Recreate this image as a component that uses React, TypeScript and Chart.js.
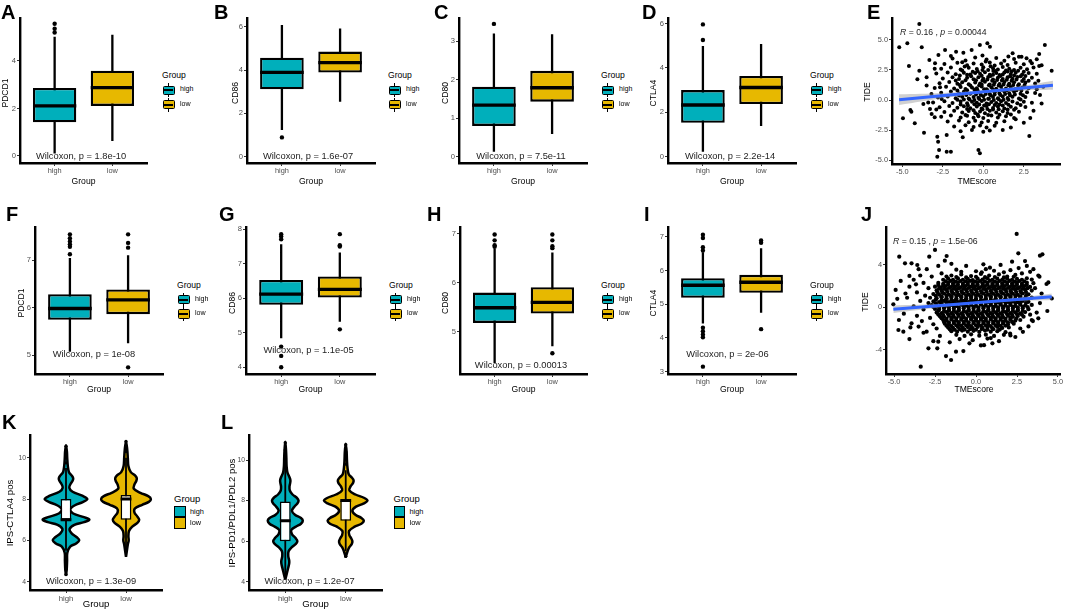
import React, { useEffect, useRef } from 'react';
import { Chart, registerables } from 'chart.js';
Chart.register(...registerables);

const TEAL = '#00AFBB';
const GOLD = '#E7B800';
const FONT = '"Liberation Sans", Arial, Helvetica, sans-serif';
const TICK = '#4D4D4D';

// ---------------- data ----------------
const groups = ['high', 'low'];

// boxplot stats: [lower whisker, Q1, median, Q3, upper whisker]
const pdcd1A_high = [0.1, 1.42, 2.11, 2.86, 5.02];
const pdcd1A_low = [0.63, 2.11, 2.88, 3.59, 5.1];
const pdcd1A_outHigh = [5.2, 5.36, 5.57];
const pdcd1A_outLow: number[] = [];

const cd86B_high = [1.23, 3.11, 3.89, 4.57, 6.08];
const cd86B_low = [2.54, 3.88, 4.34, 4.85, 5.92];
const cd86B_outHigh = [0.89];
const cd86B_outLow: number[] = [];

const cd80C_high = [0.13, 0.8, 1.34, 1.82, 3.2];
const cd80C_low = [0.59, 1.43, 1.79, 2.23, 3.18];
const cd80C_outHigh = [3.45];
const cd80C_outLow: number[] = [];

const ctla4D_high = [0.22, 1.53, 2.33, 3.0, 4.99];
const ctla4D_low = [1.38, 2.37, 3.12, 3.64, 5.08];
const ctla4D_outHigh = [5.26, 5.96];
const ctla4D_outLow: number[] = [];

const pdcd1F_high = [5.07, 5.74, 5.98, 6.28, 7.04];
const pdcd1F_low = [5.25, 5.86, 6.16, 6.38, 7.1];
const pdcd1F_outHigh = [7.12, 7.28, 7.33, 7.39, 7.46, 7.54];
const pdcd1F_outLow = [7.26, 7.36, 7.54, 4.74];

const cd86G_high = [4.84, 5.81, 6.12, 6.53, 7.57];
const cd86G_low = [5.32, 6.02, 6.26, 6.63, 7.33];
const cd86G_outHigh = [7.71, 7.79, 7.86, 4.6, 4.33, 4.0];
const cd86G_outLow = [7.5, 7.54, 7.86, 5.1];

const cd80H_high = [4.36, 5.18, 5.49, 5.8, 6.7];
const cd80H_low = [4.7, 5.37, 5.6, 5.91, 6.62];
const cd80H_outHigh = [6.74, 6.77, 6.87, 6.99];
const cd80H_outLow = [6.71, 6.75, 6.87, 6.99, 4.56];

const ctla4I_high = [4.43, 5.19, 5.56, 5.77, 6.54];
const ctla4I_low = [4.75, 5.34, 5.65, 5.87, 6.66];
const ctla4I_outHigh = [6.59, 6.69, 6.96, 7.06, 4.3, 4.2, 4.1, 4.02, 3.15];
const ctla4I_outLow = [6.82, 6.89, 4.26];

// violin densities: score levels and half-widths (in group-width units)
const ipsK_highLevels = [4.3, 4.6, 5.0, 5.4, 5.7, 5.85, 6.0, 6.15, 6.35, 6.55, 6.75, 6.88, 7.0, 7.12, 7.3, 7.5, 7.7, 7.85, 8.0, 8.15, 8.35, 8.55, 8.75, 8.88, 9.0, 9.12, 9.3, 9.6, 10.0, 10.3, 10.6];
const ipsK_highDensity = [0, 0.012, 0.018, 0.022, 0.07, 0.17, 0.22, 0.18, 0.09, 0.06, 0.14, 0.3, 0.39, 0.3, 0.12, 0.07, 0.15, 0.28, 0.355, 0.28, 0.11, 0.055, 0.08, 0.11, 0.12, 0.1, 0.05, 0.03, 0.02, 0.015, 0];
const ipsK_lowLevels = [5.2, 5.5, 5.8, 6.0, 6.2, 6.45, 6.65, 6.85, 7.0, 7.15, 7.35, 7.55, 7.72, 7.86, 8.0, 8.14, 8.3, 8.5, 8.7, 8.86, 9.0, 9.14, 9.3, 9.6, 10.0, 10.4, 10.8];
const ipsK_lowDensity = [0, 0.015, 0.03, 0.045, 0.04, 0.05, 0.1, 0.19, 0.22, 0.19, 0.14, 0.15, 0.27, 0.38, 0.415, 0.37, 0.24, 0.13, 0.14, 0.17, 0.18, 0.15, 0.08, 0.04, 0.03, 0.02, 0];
const ipsK_high = [5.5, 7.0, 7.0, 8.0, 9.5];
const ipsK_low = [5.2, 7.0, 8.0, 8.2, 10.0];
const ipsK_outHigh = [4.35, 4.6, 4.85, 5.1, 5.3, 9.75, 10.0, 10.25, 10.55];
const ipsK_outLow = [10.3, 10.55, 10.78];

const ipsL_highLevels = [4.1, 4.4, 4.7, 4.9, 5.05, 5.25, 5.5, 5.7, 5.85, 6.0, 6.15, 6.35, 6.55, 6.72, 6.86, 7.0, 7.14, 7.3, 7.5, 7.7, 7.86, 8.0, 8.14, 8.3, 8.5, 8.7, 8.85, 9.0, 9.15, 9.4, 9.7, 10.1, 10.5, 10.9];
const ipsL_highDensity = [0, 0.025, 0.05, 0.065, 0.065, 0.05, 0.055, 0.11, 0.17, 0.2, 0.17, 0.11, 0.1, 0.18, 0.26, 0.29, 0.26, 0.16, 0.11, 0.15, 0.2, 0.22, 0.19, 0.12, 0.075, 0.07, 0.08, 0.085, 0.07, 0.035, 0.022, 0.018, 0.012, 0];
const ipsL_lowLevels = [5.2, 5.5, 5.7, 5.86, 6.0, 6.14, 6.3, 6.5, 6.7, 6.86, 7.0, 7.14, 7.3, 7.5, 7.7, 7.86, 8.0, 8.14, 8.3, 8.5, 8.7, 8.86, 9.0, 9.14, 9.3, 9.6, 10.0, 10.4, 10.8];
const ipsL_lowDensity = [0, 0.03, 0.06, 0.1, 0.11, 0.09, 0.06, 0.055, 0.14, 0.26, 0.3, 0.26, 0.16, 0.11, 0.17, 0.3, 0.36, 0.3, 0.16, 0.06, 0.08, 0.12, 0.13, 0.1, 0.05, 0.03, 0.02, 0.015, 0];
const ipsL_high = [4.2, 6.0, 7.0, 7.95, 9.9];
const ipsL_low = [5.5, 7.0, 8.0, 8.0, 9.5];
const ipsL_outHigh = [10.2, 10.5, 10.85];
const ipsL_outLow = [5.25, 9.8, 10.1, 10.4, 10.75];

// scatter E: [TMEscore, TIDE]
const pointsE = [
  [-3.95, 6.33], [-5.19, 4.39], [-4.69, 4.72], [-3.8, 4.39], [-4.59, 2.83], [-3.95, 2.44], [-4.07, 1.72], [-3.5, 1.89], [-3.33, 3.33], [-2.77, 3.75],
  [-2.98, 3.06], [-2.36, 4.17], [-1.68, 4.03], [-2.0, 3.67], [-1.23, 3.94], [-0.72, 4.17], [-0.21, 4.58], [0.25, 4.72], [0.41, 4.44], [1.81, 3.89],
  [2.36, 3.61], [2.67, 3.47], [3.45, 3.83], [3.8, 4.58], [4.22, 2.44], [3.45, 2.83], [3.5, 0.42], [2.84, -2.99], [-4.96, -1.53], [-4.44, -0.97],
  [-4.23, -1.94], [-3.66, -2.72], [-3.0, -1.44], [-2.84, -3.06], [-2.79, -3.47], [-2.73, -4.17], [-2.84, -4.72], [-2.26, -2.92], [-2.26, -4.31], [-2.0, -4.31],
  [-1.27, -3.11], [-0.3, -4.17], [-0.21, -4.44], [-4.5, -0.83], [-3.29, -0.75], [-3.19, -1.17], [-3.7, -0.33],
  [-2.67, 1.06], [-2.57, 0.08], [-3.2, 0.5], [-3.4, -0.2], [-2.9, -0.8], [-3.5, 1.2], [-3.0, 2.6], [3.4, 1.6], [3.6, -0.3], [3.1, -0.9],
  [2.9, -1.5], [2.5, -1.9], [3.3, 0.9], [3.7, 1.1], [2.0, -1.6], [1.7, -2.3], [1.2, -2.5],
  [-1.9, 3.45], [-1.1, 3.3], [-0.5, 3.55], [0.2, 3.38], [0.8, 3.5], [1.3, 3.28], [1.9, 3.42], [2.2, 3.6], [2.9, 3.25], [3.3, 3.4], [-0.05, 3.7], [1.55, 3.62],
  [-2.4, 3.0], [-1.6, 3.1], [-1.0, 2.9], [-0.6, 3.05], [-0.1, 2.95], [0.4, 3.12], [0.7, 2.88], [1.1, 3.04], [1.5, 2.92], [2.0, 3.1], [2.5, 2.97], [3.0, 3.06], [3.6, 2.9], [-1.3, 3.15], [0.15, 3.2],
  [-2.6, 2.6], [-2.0, 2.7], [-1.4, 2.55], [-0.9, 2.68], [-0.4, 2.58], [0.0, 2.72], [0.3, 2.5], [0.6, 2.65], [0.9, 2.55], [1.2, 2.75], [1.6, 2.6], [1.9, 2.5], [2.3, 2.68], [2.7, 2.57], [3.1, 2.7], [-1.15, 2.8], [0.45, 2.82], [1.4, 2.45],
  [-2.9, 2.2], [-2.2, 2.3], [-1.7, 2.15], [-1.2, 2.28], [-0.8, 2.12], [-0.5, 2.25], [-0.2, 2.18], [0.1, 2.32], [0.4, 2.1], [0.8, 2.26], [1.0, 2.08], [1.3, 2.3], [1.7, 2.16], [2.0, 2.28], [2.4, 2.12], [2.8, 2.25], [3.3, 2.18], [-0.35, 2.4], [0.62, 2.42], [1.5, 2.38], [2.15, 2.44],
  [-2.5, 1.8], [-1.9, 1.9], [-1.5, 1.75], [-1.0, 1.85], [-0.6, 1.72], [-0.3, 1.9], [0.0, 1.78], [0.3, 1.92], [0.6, 1.7], [0.9, 1.86], [1.2, 1.74], [1.5, 1.9], [1.8, 1.78], [2.1, 1.92], [2.5, 1.75], [3.0, 1.85], [-0.75, 1.98], [0.45, 2.0], [1.05, 2.0], [1.65, 1.98], [2.3, 1.98],
  [-2.7, 1.4], [-2.1, 1.5], [-1.6, 1.35], [-1.3, 1.48], [-0.9, 1.32], [-0.5, 1.45], [-0.2, 1.38], [0.1, 1.52], [0.4, 1.3], [0.7, 1.46], [1.0, 1.34], [1.3, 1.5], [1.6, 1.36], [1.9, 1.48], [2.2, 1.32], [2.6, 1.45], [3.2, 1.38], [-0.05, 1.62], [0.55, 1.6], [1.15, 1.62], [1.75, 1.6], [2.4, 1.58],
  [-3.0, 1.0], [-2.3, 1.1], [-1.8, 0.95], [-1.4, 1.08], [-1.1, 0.92], [-0.7, 1.05], [-0.4, 0.98], [-0.1, 1.12], [0.2, 0.9], [0.5, 1.06], [0.8, 0.94], [1.1, 1.1], [1.4, 0.96], [1.7, 1.08], [2.0, 0.92], [2.4, 1.04], [2.8, 0.98], [-0.25, 1.22], [0.35, 1.22], [0.95, 1.2], [1.55, 1.22], [2.15, 1.2],
  [-2.6, 0.6], [-2.0, 0.7], [-1.5, 0.55], [-1.2, 0.68], [-0.8, 0.52], [-0.5, 0.66], [-0.2, 0.58], [0.1, 0.72], [0.4, 0.5], [0.7, 0.64], [1.0, 0.54], [1.3, 0.7], [1.6, 0.56], [1.9, 0.68], [2.3, 0.52], [2.7, 0.65], [3.2, 0.58], [-0.35, 0.8], [0.25, 0.82], [0.85, 0.8], [1.45, 0.82], [2.05, 0.82],
  [-2.8, 0.2], [-2.2, 0.3], [-1.7, 0.15], [-1.3, 0.28], [-0.9, 0.12], [-0.6, 0.26], [-0.3, 0.18], [0.0, 0.32], [0.3, 0.1], [0.6, 0.24], [0.9, 0.14], [1.2, 0.3], [1.5, 0.16], [1.8, 0.28], [2.2, 0.12], [2.6, 0.26], [-0.15, 0.42], [0.45, 0.4], [1.05, 0.42], [1.65, 0.4],
  [-3.1, -0.2], [-2.4, -0.1], [-1.9, -0.25], [-1.4, -0.12], [-1.0, -0.28], [-0.7, -0.14], [-0.4, -0.22], [-0.1, -0.08], [0.2, -0.3], [0.5, -0.16], [0.8, -0.26], [1.1, -0.1], [1.4, -0.24], [1.8, -0.12], [2.1, -0.28], [2.5, -0.15], [3.0, -0.22], [-0.55, 0.0], [0.05, 0.02], [0.65, 0.0], [1.25, 0.02],
  [-2.7, -0.6], [-2.1, -0.5], [-1.6, -0.65], [-1.2, -0.52], [-0.8, -0.68], [-0.4, -0.55], [-0.1, -0.7], [0.2, -0.5], [0.6, -0.66], [0.9, -0.54], [1.3, -0.7], [1.7, -0.56], [2.0, -0.68], [2.6, -0.58], [-0.25, -0.38], [0.35, -0.36], [1.0, -0.38],
  [-2.4, -1.0], [-1.8, -0.9], [-1.3, -1.05], [-0.9, -0.92], [-0.5, -1.08], [-0.2, -0.95], [0.1, -1.1], [0.4, -0.9], [0.8, -1.04], [1.2, -0.94], [1.5, -1.08], [2.2, -0.98], [-0.05, -0.78], [0.6, -0.8],
  [-2.6, -1.4], [-2.0, -1.3], [-1.4, -1.45], [-1.0, -1.32], [-0.6, -1.48], [-0.3, -1.35], [0.0, -1.5], [0.5, -1.3], [0.9, -1.46], [1.4, -1.35], [1.9, -1.5],
  [-2.2, -1.8], [-1.5, -1.7], [-0.9, -1.85], [-0.5, -1.72], [-0.1, -1.88], [0.3, -1.75], [0.8, -1.9], [1.3, -1.78],
  [-1.8, -2.2], [-1.1, -2.1], [-0.6, -2.25], [-0.2, -2.12], [0.2, -2.3], [0.7, -2.15],
  [-1.4, -2.6], [-0.7, -2.5], [0.0, -2.65], [0.4, -2.55],
  [-1.3, 2.45], [-0.65, 2.35], [-0.05, 2.5], [0.75, 2.42], [1.75, 2.4], [2.5, 2.35],
  [-1.45, 2.05], [-1.0, 2.1], [-0.1, 2.02], [0.6, 2.1], [1.2, 2.12], [1.9, 2.05], [2.6, 2.0],
  [-1.7, 1.62], [-1.1, 1.65], [-0.45, 1.65], [0.25, 1.7], [0.85, 1.66], [1.45, 1.68], [2.05, 1.7], [2.8, 1.6],
  [-1.45, 1.25], [-0.8, 1.2], [-0.1, 1.3], [0.65, 1.28], [1.25, 1.3], [1.85, 1.26], [2.55, 1.25],
  [-1.6, 0.8], [-1.0, 0.82], [-0.55, 0.88], [0.05, 0.9], [0.6, 0.88], [1.15, 0.86], [1.75, 0.88], [2.35, 0.8],
  [-1.5, 0.38], [-1.05, 0.42], [-0.45, 0.45], [0.15, 0.5], [0.7, 0.45], [1.35, 0.5], [1.95, 0.46], [2.45, 0.4],
  [-1.6, 0.02], [-1.2, 0.05], [-0.85, 0.05], [-0.25, 0.08], [0.35, 0.1], [0.95, 0.06], [1.55, 0.02], [2.3, 0.05],
  [-1.4, -0.38], [-0.95, -0.45], [-0.55, -0.36], [0.05, -0.45], [0.7, -0.42], [1.2, -0.45], [1.55, -0.4], [2.3, -0.42],
  [-1.0, -0.75], [-0.6, -0.85], [0.25, -0.75], [0.95, -0.78], [1.5, -0.8], [1.9, -0.82],
  [-1.1, -1.25], [-0.35, -1.2], [0.3, -1.25], [1.0, -1.22], [1.7, -1.2],
];
const fitE_x = [-5.2, 4.3];
const fitE_y = [0.03, 1.23];
const bandE_x = [-5.2, -2.5, 0.5, 2.5, 4.3];
const bandE_lo = [-0.42, 0.15, 0.63, 0.8, 0.85];
const bandE_hi = [0.48, 0.59, 0.87, 1.2, 1.61];

// scatter J: [TMEscore, TIDE]
const pointsJ = [
  [2.48, 6.92], [-2.5, 5.41], [-4.68, 4.78], [-4.33, 4.15], [-3.93, 4.15], [-3.58, 3.99], [-2.85, 4.78], [-1.79, 4.84], [0.45, 4.05], [0.85, 3.74],
  [2.58, 5.09], [2.99, 4.36], [3.9, 4.87], [4.05, 5.0], [3.87, 2.89], [4.41, 2.35], [4.62, 0.84], [4.35, -0.35], [3.8, -1.04], [-5.04, 0.28],
  [-4.9, 1.64], [-4.59, 2.49], [-4.06, 2.96], [-4.06, 1.95], [-3.66, 2.17], [-4.73, -2.14], [-4.43, -2.3], [-4.06, -3.0], [-3.93, -1.51], [-3.5, -1.82],
  [-3.01, -2.3], [-2.9, -3.87], [-2.36, -3.87], [-2.3, -3.24], [-1.83, -4.6], [-1.52, -4.97], [-1.22, -4.19], [-0.77, -4.13], [-3.37, -5.6], [0.49, -3.57],
  [2.08, -2.47], [2.86, -2.31], [3.47, -1.3],
  [-3.0, 3.6], [-3.4, 3.0], [-2.7, 2.9], [-3.8, 2.6], [-3.2, 2.3], [-2.9, 1.8], [-3.6, 1.4], [-3.1, 1.1], [-4.2, 0.9], [-3.4, 0.6],
  [-2.9, 0.4], [-3.8, 0.1], [-3.2, -0.2], [-4.4, -0.6], [-3.6, -0.8], [-2.8, -1.0], [-3.3, -1.3], [-2.6, -1.6], [-4.0, -1.9], [-2.4, -2.0],
  [-3.2, -2.4], [-2.2, -2.7], [-2.6, -3.2], [-4.7, -1.2], [-4.3, 1.3], [-4.8, 0.8], [-3.5, 3.6], [-2.3, 3.9], [-1.5, 4.1], [-0.6, 3.9],
  [-1.9, 4.4], [1.5, 4.0], [2.2, 4.3], [3.5, 3.6], [3.8, 3.0], [3.6, 1.8], [4.0, 1.3], [3.9, 0.4], [3.7, -0.5], [3.4, -1.2],
  [3.2, -1.8], [2.7, -2.0], [2.4, -2.8], [1.7, -2.6], [0.9, -2.9], [-0.4, -3.4], [0.3, -3.6], [1.0, -3.4], [4.3, 2.2], [3.3, -0.7],
  [-1.5, 3.0], [-0.9, 3.1], [-0.3, 2.95], [0.3, 3.15], [0.8, 3.0], [1.4, 3.1], [1.9, 2.9], [2.4, 3.05], [2.8, 3.2], [3.3, 3.35], [-2.1, 3.2], [0.0, 3.4], [1.1, 3.45], [2.1, 3.5], [-1.2, 3.55], [2.6, 3.7], [3.1, 3.9], [0.6, 3.6],
  [-2.0, 2.6], [-1.7, 2.7], [-1.4, 2.58], [-1.1, 2.72], [-0.8, 2.6], [-0.5, 2.68], [-0.2, 2.56], [0.1, 2.7], [0.4, 2.62], [0.7, 2.74], [1.0, 2.58], [1.3, 2.7], [1.6, 2.6], [1.9, 2.72], [2.2, 2.58], [2.5, 2.68], [2.8, 2.6], [3.1, 2.74], [3.4, 2.62],
  [-2.3, 2.3], [-2.0, 2.22], [-1.7, 2.34], [-1.4, 2.26], [-1.1, 2.36], [-0.8, 2.24], [-0.5, 2.32], [-0.2, 2.22], [0.1, 2.36], [0.4, 2.26], [0.7, 2.32], [1.0, 2.22], [1.3, 2.34], [1.6, 2.26], [1.9, 2.36], [2.2, 2.24], [2.5, 2.32], [2.8, 2.22], [3.1, 2.34], [3.5, 2.28],
  [-2.5, 1.95], [-2.15, 1.88], [-1.85, 2.0], [-1.55, 1.9], [-1.25, 1.98], [-0.95, 1.88], [-0.65, 2.0], [-0.35, 1.92], [-0.05, 1.98], [0.25, 1.88], [0.55, 2.0], [0.85, 1.9], [1.15, 1.98], [1.45, 1.88], [1.75, 2.0], [2.05, 1.9], [2.35, 1.98], [2.65, 1.88], [2.95, 2.0], [3.3, 1.92],
  [-2.4, 1.6], [-2.1, 1.55], [-1.8, 1.66], [-1.5, 1.56], [-1.2, 1.64], [-0.9, 1.54], [-0.6, 1.66], [-0.3, 1.56], [0.0, 1.64], [0.3, 1.54], [0.6, 1.66], [0.9, 1.56], [1.2, 1.64], [1.5, 1.54], [1.8, 1.66], [2.1, 1.56], [2.4, 1.64], [2.7, 1.54], [3.0, 1.66], [3.4, 1.58],
  [-2.6, 1.25], [-2.25, 1.2], [-1.95, 1.3], [-1.65, 1.2], [-1.35, 1.28], [-1.05, 1.18], [-0.75, 1.3], [-0.45, 1.2], [-0.15, 1.28], [0.15, 1.18], [0.45, 1.3], [0.75, 1.2], [1.05, 1.28], [1.35, 1.18], [1.65, 1.3], [1.95, 1.2], [2.25, 1.28], [2.55, 1.18], [2.85, 1.3], [3.2, 1.22],
  [-2.8, 0.9], [-2.4, 0.85], [-2.1, 0.95], [-1.8, 0.85], [-1.5, 0.93], [-1.2, 0.83], [-0.9, 0.95], [-0.6, 0.85], [-0.3, 0.93], [0.0, 0.83], [0.3, 0.95], [0.6, 0.85], [0.9, 0.93], [1.2, 0.83], [1.5, 0.95], [1.8, 0.85], [2.1, 0.93], [2.4, 0.83], [2.7, 0.95], [3.0, 0.87], [3.4, 0.92],
  [-2.6, 0.55], [-2.25, 0.5], [-1.95, 0.6], [-1.65, 0.5], [-1.35, 0.58], [-1.05, 0.48], [-0.75, 0.6], [-0.45, 0.5], [-0.15, 0.58], [0.15, 0.48], [0.45, 0.6], [0.75, 0.5], [1.05, 0.58], [1.35, 0.48], [1.65, 0.6], [1.95, 0.5], [2.25, 0.58], [2.55, 0.48], [2.85, 0.6], [3.2, 0.52],
  [-2.7, 0.2], [-2.4, 0.15], [-2.1, 0.25], [-1.8, 0.15], [-1.5, 0.23], [-1.2, 0.13], [-0.9, 0.25], [-0.6, 0.15], [-0.3, 0.23], [0.0, 0.13], [0.3, 0.25], [0.6, 0.15], [0.9, 0.23], [1.2, 0.13], [1.5, 0.25], [1.8, 0.15], [2.1, 0.23], [2.4, 0.13], [2.7, 0.25], [3.0, 0.17], [3.4, 0.22],
  [-2.5, -0.15], [-2.25, -0.2], [-1.95, -0.1], [-1.65, -0.2], [-1.35, -0.12], [-1.05, -0.22], [-0.75, -0.1], [-0.45, -0.2], [-0.15, -0.12], [0.15, -0.22], [0.45, -0.1], [0.75, -0.2], [1.05, -0.12], [1.35, -0.22], [1.65, -0.1], [1.95, -0.2], [2.25, -0.12], [2.55, -0.22], [2.85, -0.1], [3.2, -0.18],
  [-2.4, -0.5], [-2.1, -0.55], [-1.8, -0.45], [-1.5, -0.55], [-1.2, -0.47], [-0.9, -0.57], [-0.6, -0.45], [-0.3, -0.55], [0.0, -0.47], [0.3, -0.57], [0.6, -0.45], [0.9, -0.55], [1.2, -0.47], [1.5, -0.57], [1.8, -0.45], [2.1, -0.55], [2.4, -0.47], [2.7, -0.57], [3.0, -0.45],
  [-2.2, -0.85], [-1.95, -0.9], [-1.65, -0.8], [-1.35, -0.9], [-1.05, -0.82], [-0.75, -0.92], [-0.45, -0.8], [-0.15, -0.9], [0.15, -0.82], [0.45, -0.92], [0.75, -0.8], [1.05, -0.9], [1.35, -0.82], [1.65, -0.92], [1.95, -0.8], [2.25, -0.9], [2.55, -0.82], [2.9, -0.88],
  [-2.0, -1.2], [-1.8, -1.25], [-1.5, -1.15], [-1.2, -1.25], [-0.9, -1.17], [-0.6, -1.27], [-0.3, -1.15], [0.0, -1.25], [0.3, -1.17], [0.6, -1.27], [0.9, -1.15], [1.2, -1.25], [1.5, -1.17], [1.8, -1.27], [2.1, -1.15], [2.4, -1.25], [2.7, -1.2],
  [-1.9, -1.55], [-1.65, -1.6], [-1.35, -1.5], [-1.05, -1.6], [-0.75, -1.52], [-0.45, -1.62], [-0.15, -1.5], [0.15, -1.6], [0.45, -1.52], [0.75, -1.62], [1.05, -1.5], [1.35, -1.6], [1.65, -1.52], [1.95, -1.62], [2.3, -1.55],
  [-1.7, -1.9], [-1.4, -1.95], [-1.1, -1.85], [-0.8, -1.95], [-0.5, -1.87], [-0.2, -1.97], [0.1, -1.85], [0.4, -1.95], [0.7, -1.87], [1.0, -1.97], [1.3, -1.85], [1.6, -1.95], [2.0, -1.9],
  [-1.5, -2.25], [-1.15, -2.3], [-0.85, -2.2], [-0.5, -2.3], [-0.15, -2.22], [0.2, -2.32], [0.55, -2.2], [0.9, -2.3], [1.3, -2.25], [1.8, -2.35],
  [-1.2, -2.6], [-0.7, -2.7], [-0.3, -2.55], [0.2, -2.68], [0.6, -2.58], [1.1, -2.7], [2.1, -2.65],
  [-1.0, -3.0], [-0.2, -3.1], [0.7, -2.95], [1.4, -3.2], [-1.6, -3.3],
  [-1.85, 2.45], [-1.55, 2.5], [-1.25, 2.42], [-0.95, 2.48], [-0.65, 2.44], [-0.35, 2.5], [-0.05, 2.42], [0.25, 2.48], [0.55, 2.44], [0.85, 2.5], [1.15, 2.42], [1.45, 2.48], [1.75, 2.44], [2.05, 2.5], [2.35, 2.42], [2.65, 2.48], [2.95, 2.44],
  [-2.3, 2.1], [-2.0, 2.06], [-1.7, 2.14], [-1.4, 2.08], [-1.1, 2.12], [-0.8, 2.06], [-0.5, 2.14], [-0.2, 2.08], [0.1, 2.12], [0.4, 2.06], [0.7, 2.14], [1.0, 2.08], [1.3, 2.12], [1.6, 2.06], [1.9, 2.14], [2.2, 2.08], [2.5, 2.12], [2.8, 2.06], [3.1, 2.12],
  [-2.25, 1.78], [-1.95, 1.74], [-1.65, 1.82], [-1.35, 1.76], [-1.05, 1.8], [-0.75, 1.74], [-0.45, 1.82], [-0.15, 1.76], [0.15, 1.8], [0.45, 1.74], [0.75, 1.82], [1.05, 1.76], [1.35, 1.8], [1.65, 1.74], [1.95, 1.82], [2.25, 1.76], [2.55, 1.8], [2.85, 1.74], [3.15, 1.8],
  [-2.35, 1.42], [-2.05, 1.38], [-1.75, 1.46], [-1.45, 1.4], [-1.15, 1.44], [-0.85, 1.38], [-0.55, 1.46], [-0.25, 1.4], [0.05, 1.44], [0.35, 1.38], [0.65, 1.46], [0.95, 1.4], [1.25, 1.44], [1.55, 1.38], [1.85, 1.46], [2.15, 1.4], [2.45, 1.44], [2.75, 1.38], [3.05, 1.44],
  [-2.45, 1.07], [-2.1, 1.03], [-1.8, 1.1], [-1.5, 1.05], [-1.2, 1.09], [-0.9, 1.03], [-0.6, 1.1], [-0.3, 1.05], [0.0, 1.09], [0.3, 1.03], [0.6, 1.1], [0.9, 1.05], [1.2, 1.09], [1.5, 1.03], [1.8, 1.1], [2.1, 1.05], [2.4, 1.09], [2.7, 1.03], [3.05, 1.08],
  [-2.45, 0.72], [-2.1, 0.68], [-1.8, 0.76], [-1.5, 0.7], [-1.2, 0.74], [-0.9, 0.68], [-0.6, 0.76], [-0.3, 0.7], [0.0, 0.74], [0.3, 0.68], [0.6, 0.76], [0.9, 0.7], [1.2, 0.74], [1.5, 0.68], [1.8, 0.76], [2.1, 0.7], [2.4, 0.74], [2.7, 0.68], [3.0, 0.74],
  [-2.45, 0.38], [-2.1, 0.34], [-1.8, 0.42], [-1.5, 0.36], [-1.2, 0.4], [-0.9, 0.34], [-0.6, 0.42], [-0.3, 0.36], [0.0, 0.4], [0.3, 0.34], [0.6, 0.42], [0.9, 0.36], [1.2, 0.4], [1.5, 0.34], [1.8, 0.42], [2.1, 0.36], [2.4, 0.4], [2.7, 0.34], [3.05, 0.4],
  [-2.6, 0.03], [-2.25, 0.0], [-1.95, 0.06], [-1.65, 0.02], [-1.35, 0.05], [-1.05, -0.01], [-0.75, 0.06], [-0.45, 0.02], [-0.15, 0.05], [0.15, -0.01], [0.45, 0.06], [0.75, 0.02], [1.05, 0.05], [1.35, -0.01], [1.65, 0.06], [1.95, 0.02], [2.25, 0.05], [2.55, -0.01], [2.85, 0.05], [3.15, 0.02],
  [-2.3, -0.33], [-1.95, -0.36], [-1.65, -0.3], [-1.35, -0.35], [-1.05, -0.31], [-0.75, -0.37], [-0.45, -0.3], [-0.15, -0.35], [0.15, -0.31], [0.45, -0.37], [0.75, -0.3], [1.05, -0.35], [1.35, -0.31], [1.65, -0.37], [1.95, -0.3], [2.25, -0.35], [2.55, -0.31], [2.85, -0.35],
  [-2.3, -0.68], [-2.0, -0.72], [-1.7, -0.65], [-1.4, -0.7], [-1.1, -0.66], [-0.8, -0.72], [-0.5, -0.65], [-0.2, -0.7], [0.1, -0.66], [0.4, -0.72], [0.7, -0.65], [1.0, -0.7], [1.3, -0.66], [1.6, -0.72], [1.9, -0.65], [2.2, -0.7], [2.5, -0.66], [2.8, -0.7],
  [-2.1, -1.03], [-1.8, -1.07], [-1.5, -1.0], [-1.2, -1.05], [-0.9, -1.01], [-0.6, -1.07], [-0.3, -1.0], [0.0, -1.05], [0.3, -1.01], [0.6, -1.07], [0.9, -1.0], [1.2, -1.05], [1.5, -1.01], [1.8, -1.07], [2.1, -1.0], [2.45, -1.05],
  [-1.95, -1.38], [-1.65, -1.42], [-1.35, -1.35], [-1.05, -1.4], [-0.75, -1.36], [-0.45, -1.42], [-0.15, -1.35], [0.15, -1.4], [0.45, -1.36], [0.75, -1.42], [1.05, -1.35], [1.35, -1.4], [1.65, -1.36], [1.95, -1.42], [2.2, -1.38],
  [-1.8, -1.73], [-1.5, -1.77], [-1.2, -1.7], [-0.9, -1.75], [-0.6, -1.71], [-0.3, -1.77], [0.0, -1.7], [0.3, -1.75], [0.6, -1.71], [0.9, -1.77], [1.2, -1.7], [1.5, -1.75], [1.8, -1.72],
  [-1.6, -2.08], [-1.3, -2.12], [-1.0, -2.05], [-0.7, -2.1], [-0.35, -2.06], [0.0, -2.12], [0.35, -2.05], [0.7, -2.1], [1.05, -2.06], [1.45, -2.1],
  [-1.2, 2.85], [-0.6, 2.82], [0.0, 2.88], [0.55, 2.84], [1.15, 2.86], [1.7, 2.82], [2.3, 2.88], [-1.8, 2.9], [-0.9, 3.35], [0.35, 3.3], [1.7, 3.3],
];
const fitJ_x = [-5.04, 4.62];
const fitJ_y = [-0.19, 1.0];
const bandJ_x = [-5.04, -2.5, 0, 2.5, 4.62];
const bandJ_lo = [-0.54, -0.06, 0.33, 0.59, 0.7];
const bandJ_hi = [0.16, 0.3, 0.53, 0.89, 1.3];

// tick values
const ticksA = [0, 2, 4];
const ticksB = [0, 2, 4, 6];
const ticksC = [0, 1, 2, 3];
const ticksD = [0, 2, 4, 6];
const ticksF = [5, 6, 7];
const ticksG = [4, 5, 6, 7, 8];
const ticksH = [5, 6, 7];
const ticksI = [3, 4, 5, 6, 7];
const ticksIPS = [4, 6, 8, 10];
const ticksE_x = [-5, -2.5, 0, 2.5];
const labelsE_x = ['-5.0', '-2.5', '0.0', '2.5'];
const ticksE_y = [-5, -2.5, 0, 2.5, 5];
const labelsE_y = ['-5.0', '-2.5', '0.0', '2.5', '5.0'];
const ticksJ_x = [-5, -2.5, 0, 2.5, 5];
const labelsJ_x = ['-5.0', '-2.5', '0.0', '2.5', '5.0'];
const ticksJ_y = [-4, 0, 4];
const labelsJ_y = ['-4', '0', '4'];

// ---------------- chart helpers ----------------
const YW = 26, XH = 18, PT = 10, PR = 10;

function axis(min: number, max: number, ticks: number[], labels: string[], size: number, isX: boolean) {
  return {
    type: 'linear', min, max, offset: false, bounds: 'data',
    grid: { display: true, offset: false, drawOnChartArea: false, drawTicks: true, tickLength: 3, color: '#333333', lineWidth: 1 },
    border: { display: true, color: '#000000', width: 2.4 },
    ticks: {
      autoSkip: false, maxRotation: 0, minRotation: 0, padding: 1, color: TICK,
      font: { family: FONT, size, lineHeight: 1.2 },
      callback: (_v: any, i: number) => labels[i] ?? '',
    },
    afterBuildTicks: (s: any) => { s.ticks = ticks.map((v) => ({ value: v })); },
    afterFit: (s: any) => { if (isX) s.height = XH; else s.width = YW; },
  };
}

function baseOptions(x: any, y: any) {
  return {
    responsive: false, maintainAspectRatio: false, animation: false, events: [],
    layout: { padding: { left: 0, top: PT, right: PR, bottom: 0 } },
    plugins: { legend: { display: false }, tooltip: { enabled: false }, title: { display: false } },
    scales: { x, y },
  };
}

function boxDatasets(stats: number[][], outs: number[][]) {
  const whisk: any[] = [], med: any[] = [], pts: any[] = [];
  stats.forEach((s, i) => {
    const c = i + 1;
    whisk.push({ x: c, y: s[0] }, { x: c, y: s[4] }, { x: c + 0.5, y: null });
    med.push({ x: c - 0.375, y: s[2] }, { x: c + 0.375, y: s[2] }, { x: c + 0.5, y: null });
    outs[i].forEach((v) => pts.push({ x: c, y: v }));
  });
  return [
    { type: 'bar', data: stats.map((s, i) => ({ x: i + 1, y: [s[1], s[3]] })), backgroundColor: [TEAL, GOLD], borderColor: '#000', borderWidth: 2.3, borderSkipped: false, categoryPercentage: 1, barPercentage: 0.75, order: 3 },
    { type: 'line', data: whisk, borderColor: '#000', borderWidth: 2.3, pointRadius: 0, spanGaps: false, fill: false, order: 4 },
    { type: 'line', data: med, borderColor: '#000', borderWidth: 3.4, pointRadius: 0, spanGaps: false, fill: false, order: 2 },
    { type: 'scatter', data: pts, backgroundColor: '#000', pointRadius: 2.2, pointBorderWidth: 0, borderWidth: 0, order: 1 },
  ];
}

function violinDatasets(levels: number[][], dens: number[][], stats: number[][], outs: number[][]) {
  const cols = [TEAL, GOLD];
  const ds: any[] = [];
  levels.forEach((lv, i) => {
    const c = i + 1;
    const pts: any[] = [];
    lv.forEach((y, k) => pts.push({ x: c + dens[i][k], y }));
    for (let k = lv.length - 2; k >= 0; k--) pts.push({ x: c - dens[i][k], y: lv[k] });
    ds.push({ type: 'line', data: pts, borderColor: '#000', borderWidth: 2.5, backgroundColor: cols[i], fill: 'shape', tension: 0.35, pointRadius: 0, order: 6 });
  });
  const whisk: any[] = [], med: any[] = [], pts: any[] = [];
  stats.forEach((s, i) => {
    const c = i + 1;
    whisk.push({ x: c, y: s[0] }, { x: c, y: s[4] }, { x: c + 0.5, y: null });
    med.push({ x: c - 0.09, y: s[2] }, { x: c + 0.09, y: s[2] }, { x: c + 0.5, y: null });
    outs[i].forEach((v) => pts.push({ x: c, y: v }));
  });
  ds.push(
    { type: 'line', data: whisk, borderColor: '#000', borderWidth: 1.8, pointRadius: 0, spanGaps: false, fill: false, order: 5 },
    { type: 'bar', data: stats.map((s, i) => ({ x: i + 1, y: [s[1], s[3]] })), backgroundColor: '#ffffff', borderColor: '#000', borderWidth: 1.5, borderSkipped: false, categoryPercentage: 1, barPercentage: 0.18, order: 3 },
    { type: 'line', data: med, borderColor: '#000', borderWidth: 3, pointRadius: 0, spanGaps: false, fill: false, order: 2 },
    { type: 'scatter', data: pts, backgroundColor: '#000', pointRadius: 1.7, pointBorderWidth: 0, borderWidth: 0, order: 1 },
  );
  return ds;
}

function scatterDatasets(points: number[][], fx: number[], fy: number[], bx: number[], lo: number[], hi: number[], radius: number) {
  return [
    { type: 'scatter', data: points.map((p) => ({ x: p[0], y: p[1] })), backgroundColor: '#000', pointRadius: radius, pointBorderWidth: 0, borderWidth: 0, order: 4 },
    { type: 'line', data: bx.map((x, i) => ({ x, y: lo[i] })), borderWidth: 0, borderColor: 'rgba(0,0,0,0)', pointRadius: 0, fill: false, tension: 0.4, order: 3 },
    { type: 'line', data: bx.map((x, i) => ({ x, y: hi[i] })), borderWidth: 0, borderColor: 'rgba(0,0,0,0)', backgroundColor: 'rgba(150,150,150,0.45)', pointRadius: 0, fill: '-1', tension: 0.4, order: 3 },
    { type: 'line', data: fx.map((x, i) => ({ x, y: fy[i] })), borderColor: '#3366FF', borderWidth: 3, pointRadius: 0, fill: false, order: 1 },
  ];
}

function ChartCanvas({ rect, config }: { rect: number[]; config: () => any }) {
  const ref = useRef<HTMLCanvasElement | null>(null);
  useEffect(() => {
    if (!ref.current) return;
    const chart = new Chart(ref.current, config());
    return () => { chart.destroy(); };
  }, []);
  const [l, t, r, b] = rect;
  const w = r - l + YW + PR;
  const h = b - t + PT + XH;
  return <canvas ref={ref} width={w} height={h} style={{ position: 'absolute', left: l - YW, top: t - PT, width: w, height: h, display: 'block' }} />;
}

function Txt({ x, y, size, children, align = 'left', rotate = false, color = '#000' }: any) {
  const tx = align === 'center' ? '-50%' : align === 'right' ? '-100%' : '0';
  return (
    <div style={{
      position: 'absolute', left: x, top: y, fontFamily: FONT, fontSize: size, lineHeight: 1, whiteSpace: 'nowrap', color,
      transform: rotate ? 'translate(-50%,-50%) rotate(-90deg)' : `translate(${tx},-50%)`,
    }}>{children}</div>
  );
}

function Letter({ x, y, ch }: { x: number; y: number; ch: string }) {
  return <div style={{ position: 'absolute', left: x - 1, top: y - 2.6, fontFamily: FONT, fontWeight: 700, fontSize: 20, lineHeight: 1 }}>{ch}</div>;
}

function BoxKey({ x, cy, color }: { x: number; cy: number; color: string }) {
  return (
    <>
      <div style={{ position: 'absolute', left: x + 5.6, top: cy - 7, width: 1.3, height: 14, background: '#000' }} />
      <div style={{ position: 'absolute', left: x, top: cy - 4.6, width: 12.4, height: 9.2, background: color, border: '1.6px solid #000', boxSizing: 'border-box', borderRadius: 1.5 }} />
      <div style={{ position: 'absolute', left: x + 1.4, top: cy - 1, width: 9.6, height: 2, background: '#000' }} />
    </>
  );
}

function BoxLegend({ x, y }: { x: number; y: number }) {
  return (
    <>
      <Txt x={x} y={y} size={8.6}>Group</Txt>
      {groups.map((g, i) => (
        <React.Fragment key={g}>
          <BoxKey x={x + 0.5} cy={y + 15.3 + i * 14.2} color={i === 0 ? TEAL : GOLD} />
          <Txt x={x + 18} y={y + 15.3 + i * 14.2} size={7.1}>{g}</Txt>
        </React.Fragment>
      ))}
    </>
  );
}

function SquareLegend({ x, y }: { x: number; y: number }) {
  return (
    <>
      <Txt x={x} y={y} size={9.5}>Group</Txt>
      {groups.map((g, i) => (
        <React.Fragment key={g}>
          <div style={{ position: 'absolute', left: x, top: y + 6.5 + i * 11.5, width: 11.5, height: 11.5, background: i === 0 ? TEAL : GOLD, border: '1.5px solid #000', boxSizing: 'border-box' }} />
          <Txt x={x + 16} y={y + 12.2 + i * 11.5} size={7.4}>{g}</Txt>
        </React.Fragment>
      ))}
    </>
  );
}

type BoxSpec = {
  letter: string; lx: number; ly: number; rect: number[]; yr: number[]; ticks: number[];
  title: string; titleX: number; high: number[]; low: number[]; outHigh: number[]; outLow: number[];
  p: string; px: number; py: number; legX: number; legY: number; xTitleY: number;
};

const boxSpecs: BoxSpec[] = [
  { letter: 'A', lx: 2, ly: 5, rect: [20, 18, 147, 163], yr: [-0.295, 5.81], ticks: ticksA, title: 'PDCD1', titleX: 5, high: pdcd1A_high, low: pdcd1A_low, outHigh: pdcd1A_outHigh, outLow: pdcd1A_outLow, p: 'Wilcoxon, p = 1.8e-10', px: 81, py: 157, legX: 162, legY: 75, xTitleY: 181 },
  { letter: 'B', lx: 215, ly: 5, rect: [247, 18, 375, 163], yr: [-0.29, 6.4], ticks: ticksB, title: 'CD86', titleX: 235, high: cd86B_high, low: cd86B_low, outHigh: cd86B_outHigh, outLow: cd86B_outLow, p: 'Wilcoxon, p = 1.6e-07', px: 308, py: 157, legX: 388, legY: 75, xTitleY: 181 },
  { letter: 'C', lx: 435, ly: 5, rect: [459, 18, 587, 163], yr: [-0.164, 3.603], ticks: ticksC, title: 'CD80', titleX: 445, high: cd80C_high, low: cd80C_low, outHigh: cd80C_outHigh, outLow: cd80C_outLow, p: 'Wilcoxon, p = 7.5e-11', px: 521, py: 157, legX: 601, legY: 75, xTitleY: 181 },
  { letter: 'D', lx: 643, ly: 5, rect: [668, 18, 796, 163], yr: [-0.284, 6.248], ticks: ticksD, title: 'CTLA4', titleX: 653, high: ctla4D_high, low: ctla4D_low, outHigh: ctla4D_outHigh, outLow: ctla4D_outLow, p: 'Wilcoxon, p = 2.2e-14', px: 730, py: 157, legX: 810, legY: 75, xTitleY: 181 },
  { letter: 'F', lx: 7, ly: 207, rect: [35, 227, 163, 374], yr: [4.6, 7.695], ticks: ticksF, title: 'PDCD1', titleX: 21, high: pdcd1F_high, low: pdcd1F_low, outHigh: pdcd1F_outHigh, outLow: pdcd1F_outLow, p: 'Wilcoxon, p = 1e-08', px: 94, py: 355, legX: 177, legY: 284.5, xTitleY: 389.3 },
  { letter: 'G', lx: 220, ly: 207, rect: [246, 227, 375, 374], yr: [3.806, 8.067], ticks: ticksG, title: 'CD86', titleX: 232, high: cd86G_high, low: cd86G_low, outHigh: cd86G_outHigh, outLow: cd86G_outLow, p: 'Wilcoxon, p = 1.1e-05', px: 308.5, py: 350.7, legX: 389, legY: 284.5, xTitleY: 389.3 },
  { letter: 'H', lx: 428, ly: 207, rect: [460, 227, 587, 374], yr: [4.134, 7.143], ticks: ticksH, title: 'CD80', titleX: 445, high: cd80H_high, low: cd80H_low, outHigh: cd80H_outHigh, outLow: cd80H_outLow, p: 'Wilcoxon, p = 0.00013', px: 521, py: 366, legX: 601, legY: 284.5, xTitleY: 389.3 },
  { letter: 'I', lx: 645, ly: 207, rect: [668, 227, 796, 374], yr: [2.932, 7.287], ticks: ticksI, title: 'CTLA4', titleX: 653, high: ctla4I_high, low: ctla4I_low, outHigh: ctla4I_outHigh, outLow: ctla4I_outLow, p: 'Wilcoxon, p = 2e-06', px: 727.5, py: 355, legX: 810, legY: 284.5, xTitleY: 389.3 },
];

function BoxPanel({ s }: { s: BoxSpec }) {
  const [l, t, r, b] = s.rect;
  const config = () => ({
    type: 'bar',
    data: { datasets: boxDatasets([s.high, s.low], [s.outHigh, s.outLow]) },
    options: baseOptions(
      axis(0.4, 2.6, [1, 2], groups, 7.4, true),
      axis(s.yr[0], s.yr[1], s.ticks, s.ticks.map(String), 7.6, false),
    ),
  });
  return (
    <>
      <ChartCanvas rect={s.rect} config={config} />
      <Letter x={s.lx} y={s.ly} ch={s.letter} />
      <Txt x={s.titleX} y={(t + b) / 2 + 2} size={8.6} rotate>{s.title}</Txt>
      <Txt x={(l + r) / 2} y={s.xTitleY} size={8.6} align="center">Group</Txt>
      <Txt x={s.px} y={s.py} size={9.3} align="center" color="#222">{s.p}</Txt>
      <BoxLegend x={s.legX} y={s.legY} />
    </>
  );
}

type ScatterSpec = {
  letter: string; lx: number; ly: number; rect: number[]; xr: number[]; yr: number[];
  xt: number[]; xl: string[]; yt: number[]; yl: string[]; points: number[][];
  fx: number[]; fy: number[]; bx: number[]; lo: number[]; hi: number[]; radius: number;
  r: string; p: string; rx: number; ry: number; titleX: number; xTitleY: number;
};

const scatterSpecs: ScatterSpec[] = [
  { letter: 'E', lx: 868, ly: 5, rect: [892, 18, 1060, 164], xr: [-5.636, 4.735], yr: [-5.333, 6.833], xt: ticksE_x, xl: labelsE_x, yt: ticksE_y, yl: labelsE_y, points: pointsE, fx: fitE_x, fy: fitE_y, bx: bandE_x, lo: bandE_lo, hi: bandE_hi, radius: 2.0, r: '0.16', p: '0.00044', rx: 900, ry: 31.7, titleX: 867, xTitleY: 181 },
  { letter: 'J', lx: 862, ly: 207, rect: [886, 227, 1060, 374], xr: [-5.488, 5.122], yr: [-6.292, 7.575], xt: ticksJ_x, xl: labelsJ_x, yt: ticksJ_y, yl: labelsJ_y, points: pointsJ, fx: fitJ_x, fy: fitJ_y, bx: bandJ_x, lo: bandJ_lo, hi: bandJ_hi, radius: 2.1, r: '0.15', p: '1.5e-06', rx: 893, ry: 240.7, titleX: 865, xTitleY: 389.3 },
];

function ScatterPanel({ s }: { s: ScatterSpec }) {
  const [l, t, r, b] = s.rect;
  const config = () => ({
    type: 'scatter',
    data: { datasets: scatterDatasets(s.points, s.fx, s.fy, s.bx, s.lo, s.hi, s.radius) },
    options: baseOptions(
      axis(s.xr[0], s.xr[1], s.xt, s.xl, 7.4, true),
      axis(s.yr[0], s.yr[1], s.yt, s.yl, 7.4, false),
    ),
  });
  return (
    <>
      <ChartCanvas rect={s.rect} config={config} />
      <Letter x={s.lx} y={s.ly} ch={s.letter} />
      <Txt x={s.titleX} y={(t + b) / 2 + 1} size={8.6} rotate>TIDE</Txt>
      <Txt x={(l + r) / 2 + 1} y={s.xTitleY} size={8.6} align="center">TMEscore</Txt>
      <Txt x={s.rx} y={s.ry} size={8.7} color="#222"><i>R</i> = {s.r} , <i>p</i> = {s.p}</Txt>
    </>
  );
}

type ViolinSpec = {
  letter: string; lx: number; ly: number; rect: number[]; yr: number[];
  levels: number[][]; dens: number[][]; stats: number[][]; outs: number[][];
  title: string; titleX: number; p: string; px: number; py: number; legX: number; legY: number;
};

const violinSpecs: ViolinSpec[] = [
  { letter: 'K', lx: 3, ly: 415, rect: [30, 435, 162, 590], yr: [3.598, 11.097], levels: [ipsK_highLevels, ipsK_lowLevels], dens: [ipsK_highDensity, ipsK_lowDensity], stats: [ipsK_high, ipsK_low], outs: [ipsK_outHigh, ipsK_outLow], title: 'IPS-CTLA4 pos', titleX: 10, p: 'Wilcoxon, p = 1.3e-09', px: 91, py: 581.7, legX: 174, legY: 499.3 },
  { letter: 'L', lx: 222, ly: 415, rect: [249, 435, 382, 590], yr: [3.591, 11.234], levels: [ipsL_highLevels, ipsL_lowLevels], dens: [ipsL_highDensity, ipsL_lowDensity], stats: [ipsL_high, ipsL_low], outs: [ipsL_outHigh, ipsL_outLow], title: 'IPS-PD1/PDL1/PDL2 pos', titleX: 232, p: 'Wilcoxon, p = 1.2e-07', px: 309.5, py: 581.7, legX: 393.5, legY: 499.3 },
];

function ViolinPanel({ s }: { s: ViolinSpec }) {
  const [l, t, r, b] = s.rect;
  const config = () => ({
    type: 'bar',
    data: { datasets: violinDatasets(s.levels, s.dens, s.stats, s.outs) },
    options: baseOptions(
      axis(0.4, 2.6, [1, 2], groups, 7.8, true),
      axis(s.yr[0], s.yr[1], ticksIPS, ticksIPS.map(String), 6.8, false),
    ),
  });
  return (
    <>
      <ChartCanvas rect={s.rect} config={config} />
      <Letter x={s.lx} y={s.ly} ch={s.letter} />
      <Txt x={s.titleX} y={(t + b) / 2} size={9.6} rotate>{s.title}</Txt>
      <Txt x={(l + r) / 2} y={604} size={9.6} align="center">Group</Txt>
      <Txt x={s.px} y={s.py} size={9.3} align="center" color="#222">{s.p}</Txt>
      <SquareLegend x={s.legX} y={s.legY} />
    </>
  );
}

export default function App() {
  return (
    <div style={{ position: 'fixed', left: 0, top: 0, width: 1065, height: 609, background: '#ffffff', overflow: 'hidden' }}>
      {boxSpecs.map((s) => <BoxPanel key={s.letter} s={s} />)}
      {scatterSpecs.map((s) => <ScatterPanel key={s.letter} s={s} />)}
      {violinSpecs.map((s) => <ViolinPanel key={s.letter} s={s} />)}
    </div>
  );
}
